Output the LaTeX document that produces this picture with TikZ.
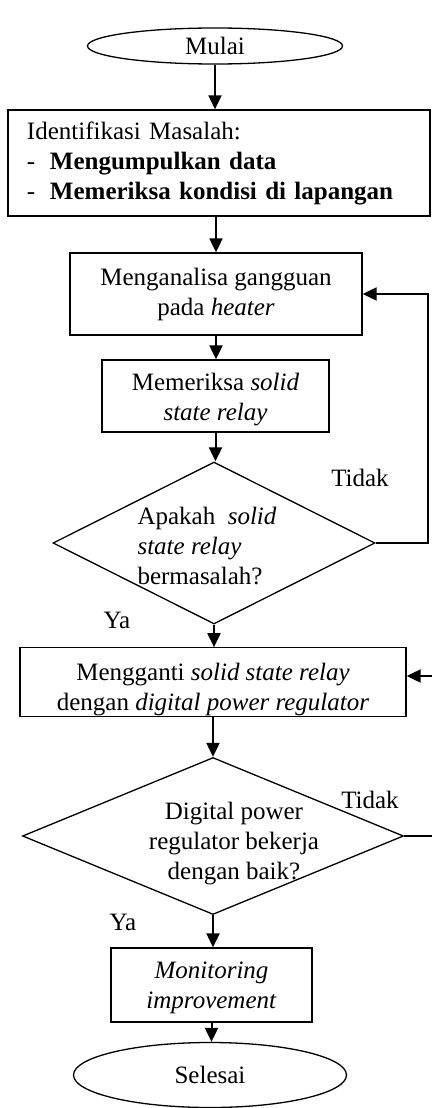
\documentclass[tikz,border=0pt]{standalone}
\usepackage{fontspec}
\setmainfont{Liberation Serif}
\usepackage{tikz}
\usetikzlibrary{shapes.geometric,arrows.meta}

\tikzset{
  kotak/.style={draw, line width=1.3pt, rectangle, inner sep=0pt, align=center},
  oval/.style={draw, line width=1.3pt, ellipse, inner sep=0pt},
  belah/.style={draw, line width=1.3pt, diamond, inner sep=0pt},
  panah/.style={line width=2pt, -{Triangle[length=14pt,width=13pt]}}
}

\begin{document}
\begin{tikzpicture}[x=1pt,y=-1pt,font=\fontsize{25}{30}\selectfont]
      \useasboundingbox (0,0) rectangle (431,1108);
      \node[oval,minimum width=255pt,minimum height=36pt] (mulai) at (215,46) {Mulai};
      \node[kotak,align=left,text width=384pt,inner xsep=19pt,minimum height=106pt] (identifikasi) at (219,163)
           {Identifikasi Masalah:\\\makebox[23pt][l]{-}\textbf{Mengumpulkan data}\\\makebox[23pt][l]{-}\textbf{Memeriksa kondisi di lapangan}};
      \node[kotak,minimum width=292pt,minimum height=82pt] (analisa) at (216,294) {Menganalisa gangguan\\pada \textit{heater}};
      \node[kotak,minimum width=227pt,minimum height=72pt,text height=55pt] (periksa) at (215.5,396) {Memeriksa \textit{solid}\\\textit{state relay}};
      % keputusan 1
      \node[belah,minimum width=322pt,minimum height=162pt] (cek) at (214,543) {};
      \node[align=left,anchor=west] (tanyacek) at (134,546) {Apakah\ \ \textit{solid}\\\textit{state relay}\\bermasalah?};
      \node (tidak1) at (360,478) {Tidak};
      \node (ya1) at (117,620) {Ya};
      \node[kotak,minimum width=386pt,minimum height=68pt,text height=63pt] (ganti) at (213,682) {Mengganti \textit{solid state relay}\\dengan \textit{digital power regulator}};
      % keputusan 2
      \node[belah,minimum width=381pt,minimum height=157pt] (uji) at (213,836) {};
      \node[align=center] (tanyauji) at (234,844) {Digital power\\regulator bekerja\\dengan baik?};
      \node (tidak2) at (370,800) {Tidak};
      \node (ya2) at (123,922) {Ya};
      \node[kotak,minimum width=201pt,minimum height=74pt,text height=53pt] (monitor) at (211.5,985) {\textit{Monitoring}\\\textit{improvement}};
      \node[oval,minimum width=273pt,minimum height=65pt] (selesai) at (210,1075) {Selesai};

      \draw[panah] (mulai.south) -- (mulai.south |- identifikasi.north);
      \draw[panah] (analisa.north |- identifikasi.south) -- (analisa.north);
      \draw[panah] (analisa.south) -- (analisa.south |- periksa.north);
      \draw[panah] (periksa.south) -- (periksa.south |- cek.north);
      \draw[panah] (cek.east) -- ++(52,0) |- (analisa.east);
      \draw[panah] (cek.south) -- (cek.south |- ganti.north);
      \draw[panah] (ganti.south) -- (ganti.south |- uji.north);
      \draw[panah] (uji.east) -- ++(33,0) |- ([yshift=6pt]ganti.east);
      \draw[panah] (uji.south) -- (uji.south |- monitor.north);
      \draw[panah] (monitor.south) -- (monitor.south |- selesai.north);
\end{tikzpicture}
\end{document}
